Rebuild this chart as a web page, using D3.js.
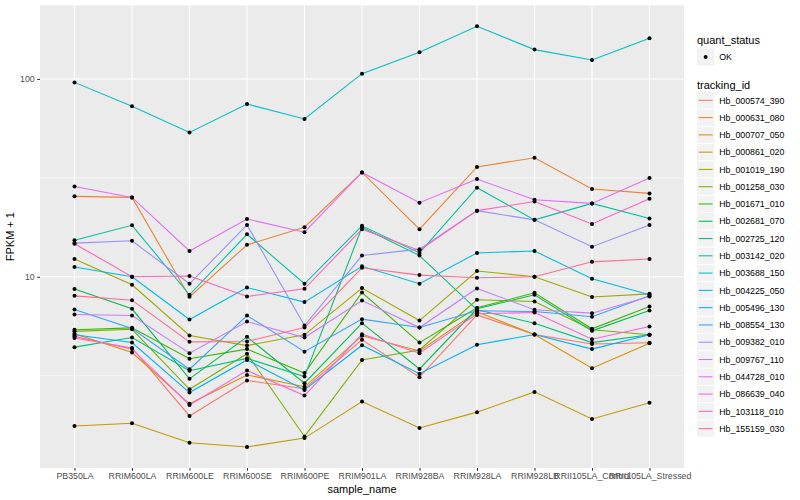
<!DOCTYPE html>
<html>
<head>
<meta charset="utf-8">
<script src="https://cdn.jsdelivr.net/npm/d3@7"></script>
<style>
  body { margin: 0; background: #fff; }
  text { font-family: "Liberation Sans", Arial, sans-serif; }
</style>
</head>
<body>
<svg id="chart" width="800" height="500"></svg>
<script>
// samples along the x axis
const samples = ['PB350LA', 'RRIM600LA', 'RRIM600LE', 'RRIM600SE', 'RRIM600PE', 'RRIM901LA',
  'RRIM928BA', 'RRIM928LA', 'RRIM928LB', 'RRII105LA_Control', 'RRII105LA_Stressed']

const trackingIds = ['Hb_000574_390', 'Hb_000631_080', 'Hb_000707_050', 'Hb_000861_020', 'Hb_001019_190',
  'Hb_001258_030', 'Hb_001671_010', 'Hb_002681_070', 'Hb_002725_120', 'Hb_003142_020',
  'Hb_003688_150', 'Hb_004225_050', 'Hb_005496_130', 'Hb_008554_130', 'Hb_009382_010',
  'Hb_009767_110', 'Hb_044728_010', 'Hb_086639_040', 'Hb_103118_010', 'Hb_155159_030']

// FPKM + 1 per sample, one array per gene
const hb000574 = [4.91, 4.37, 1.98, 2.99, 2.72, 4.80, 3.11, 6.42, 5.11, 4.57, 4.64]
const hb000631 = [25.5, 25.2, 7.92, 14.5, 17.8, 33.7, 17.4, 35.9, 40.0, 27.8, 26.4]
const hb000707 = [5.15, 4.14, 2.28, 3.19, 2.78, 5.03, 4.22, 6.65, 5.11, 3.45, 4.62]
const hb000861 = [1.76, 1.82, 1.45, 1.38, 1.53, 2.34, 1.72, 2.07, 2.62, 1.91, 2.31]
const hb001019 = [12.3, 9.11, 5.05, 4.49, 5.09, 8.77, 6.01, 10.7, 10.0, 7.90, 8.20]
const hb001258 = [5.30, 5.43, 2.70, 4.08, 1.56, 3.80, 4.27, 7.65, 7.50, 5.40, 5.09]
const hb001671 = [5.40, 5.52, 3.85, 4.31, 3.26, 8.33, 4.65, 6.97, 8.30, 5.46, 7.08]
const hb002681 = [8.67, 6.89, 3.05, 4.97, 2.90, 5.83, 3.42, 6.89, 8.11, 5.33, 6.75]
const hb002725 = [4.41, 4.93, 3.35, 3.87, 3.13, 17.8, 12.8, 6.81, 5.83, 4.65, 5.09]
const hb003142 = [15.3, 18.2, 8.11, 16.4, 9.22, 18.1, 13.2, 28.2, 19.4, 23.5, 19.7]
const hb003688 = [96.1, 72.7, 53.7, 74.7, 62.8, 106.4, 136.3, 184.5, 140.7, 124.8, 160.5]
const hb004225 = [11.2, 10.0, 6.08, 8.83, 7.45, 11.3, 9.22, 13.2, 13.5, 9.77, 8.11]
const hb005496 = [5.09, 4.65, 2.60, 3.80, 2.68, 4.51, 3.24, 4.53, 5.11, 4.31, 5.09]
const hb008554 = [6.83, 5.48, 3.41, 6.37, 4.18, 6.11, 5.54, 6.73, 6.68, 6.28, 8.01]
const hb009382 = [14.8, 15.2, 9.22, 18.3, 5.67, 12.8, 13.8, 21.6, 19.4, 14.2, 18.3]
const hb009767 = [6.45, 6.37, 4.11, 5.94, 4.93, 7.59, 5.54, 8.73, 6.81, 6.55, 7.95]
const hb044728 = [28.6, 25.2, 13.5, 19.6, 16.8, 33.7, 23.7, 31.2, 24.5, 23.5, 31.6]
const hb086639 = [5.00, 4.31, 2.25, 3.36, 2.51, 5.13, 4.11, 6.50, 6.60, 4.84, 5.61]
const hb103118 = [14.7, 10.0, 10.1, 7.95, 8.70, 17.4, 13.6, 21.6, 24.0, 18.5, 24.8]
const hb155159 = [8.01, 7.62, 4.69, 4.71, 5.54, 11.1, 10.2, 9.89, 10.0, 11.9, 12.3]

const yMajorTicks = [10, 100]
const yMinorTicks = [Math.sqrt(10), Math.sqrt(1000)]

const seriesValues = [hb000574, hb000631, hb000707, hb000861, hb001019, hb001258, hb001671, hb002681,
  hb002725, hb003142, hb003688, hb004225, hb005496, hb008554, hb009382, hb009767, hb044728,
  hb086639, hb103118, hb155159]

// ggplot hue palette for 20 levels
const colours = ['#F8766D', '#EA8331', '#D89000', '#C09B00', '#A3A500', '#7CAE00', '#39B600', '#00BB4E',
  '#00BF7D', '#00C1A3', '#00BFC4', '#00BAE0', '#00B0F6', '#35A2FF', '#9590FF', '#C77CFF',
  '#E76BF3', '#FA62DB', '#FF62BC', '#FF6C91']

const series = trackingIds.map((id, i) => ({
  id: id,
  colour: colours[i],
  points: samples.map((s, j) => ({sample: s, value: seriesValues[i][j]}))
}))

let svg = d3.select('#chart')
let panel = {left: 40, right: 684, top: 5.3, bottom: 468}

let x = d3.scalePoint().domain(samples).range([panel.left, panel.right]).padding(0.6)

// log scale with ggplot's 5% expansion in log space
let allValues = seriesValues.flat()
let lo = Math.log10(d3.min(allValues)), hi = Math.log10(d3.max(allValues))
let pad = (hi - lo) * 0.05
let y = d3.scaleLog().domain([Math.pow(10, lo - pad), Math.pow(10, hi + pad)])
  .range([panel.bottom, panel.top])

svg.append('rect')
  .attr('x', panel.left).attr('y', panel.top)
  .attr('width', panel.right - panel.left).attr('height', panel.bottom - panel.top)
  .attr('fill', '#EBEBEB')

let grid = svg.append('g')
grid.selectAll('.yminor').data(yMinorTicks).enter().append('line')
  .attr('x1', panel.left).attr('x2', panel.right)
  .attr('y1', d => y(d)).attr('y2', d => y(d))
  .attr('stroke', '#fff').attr('stroke-width', 0.55)
grid.selectAll('.ymajor').data(yMajorTicks).enter().append('line')
  .attr('x1', panel.left).attr('x2', panel.right)
  .attr('y1', d => y(d)).attr('y2', d => y(d))
  .attr('stroke', '#fff').attr('stroke-width', 1.1)
grid.selectAll('.xmajor').data(samples).enter().append('line')
  .attr('x1', d => x(d)).attr('x2', d => x(d))
  .attr('y1', panel.top).attr('y2', panel.bottom)
  .attr('stroke', '#fff').attr('stroke-width', 1.1)

let line = d3.line().x(d => x(d.sample)).y(d => y(d.value))

svg.append('g').selectAll('path').data(series).enter().append('path')
  .attr('d', d => line(d.points))
  .attr('fill', 'none')
  .attr('stroke', d => d.colour)
  .attr('stroke-width', 1.07)

svg.append('g').selectAll('g').data(series).enter().append('g')
  .selectAll('circle').data(d => d.points).enter().append('circle')
  .attr('cx', d => x(d.sample)).attr('cy', d => y(d.value))
  .attr('r', 2)
  .attr('fill', '#000')

// axes
let xAxis = svg.append('g')
  .attr('transform', `translate(0,${panel.bottom})`)
  .call(d3.axisBottom(x).tickSize(2.75).tickPadding(2.5))
let yAxis = svg.append('g')
  .attr('transform', `translate(${panel.left},0)`)
  .call(d3.axisLeft(y).tickValues(yMajorTicks).tickFormat(d3.format('d')).tickSize(2.75).tickPadding(2.5))

;[xAxis, yAxis].forEach(a => {
  a.select('.domain').remove()
  a.selectAll('.tick line').attr('stroke', '#333').attr('stroke-width', 1.07)
  a.selectAll('.tick text').attr('fill', '#4D4D4D').style('font-size', '8.8px')
    .style('font-family', '"Liberation Sans", Arial, sans-serif')
})

svg.append('text')
  .attr('x', (panel.left + panel.right) / 2).attr('y', 493)
  .attr('text-anchor', 'middle').style('font-size', '11px')
  .text('sample_name')

svg.append('text')
  .attr('transform', `translate(14,${(panel.top + panel.bottom) / 2}) rotate(-90)`)
  .attr('text-anchor', 'middle').style('font-size', '11px')
  .text('FPKM + 1')

// legends
let legend = svg.append('g').attr('transform', 'translate(697,0)')
let keySize = 17.28

legend.append('text').attr('x', 0).attr('y', 44).style('font-size', '11px').text('quant_status')
legend.append('rect').attr('x', 0).attr('y', 57 - keySize / 2)
  .attr('width', keySize).attr('height', keySize).attr('fill', '#F2F2F2')
legend.append('circle').attr('cx', keySize / 2).attr('cy', 57).attr('r', 2).attr('fill', '#000')
legend.append('text').attr('x', keySize + 5).attr('y', 60.2).style('font-size', '8.8px').text('OK')

legend.append('text').attr('x', 0).attr('y', 89).style('font-size', '11px').text('tracking_id')

let keys = legend.selectAll('.key').data(series).enter().append('g')
  .attr('transform', (d, i) => `translate(0,${100.3 + i * keySize})`)
keys.append('rect')
  .attr('x', 0).attr('y', -keySize / 2 + 0.5)
  .attr('width', keySize).attr('height', keySize - 1).attr('fill', '#F2F2F2')
keys.append('line')
  .attr('x1', 1.7).attr('x2', keySize - 1.7)
  .attr('stroke', d => d.colour).attr('stroke-width', 1.07)
keys.append('text')
  .attr('x', keySize + 5).attr('y', 3.2)
  .style('font-size', '8.8px')
  .text(d => d.id)
</script>
</body>
</html>
